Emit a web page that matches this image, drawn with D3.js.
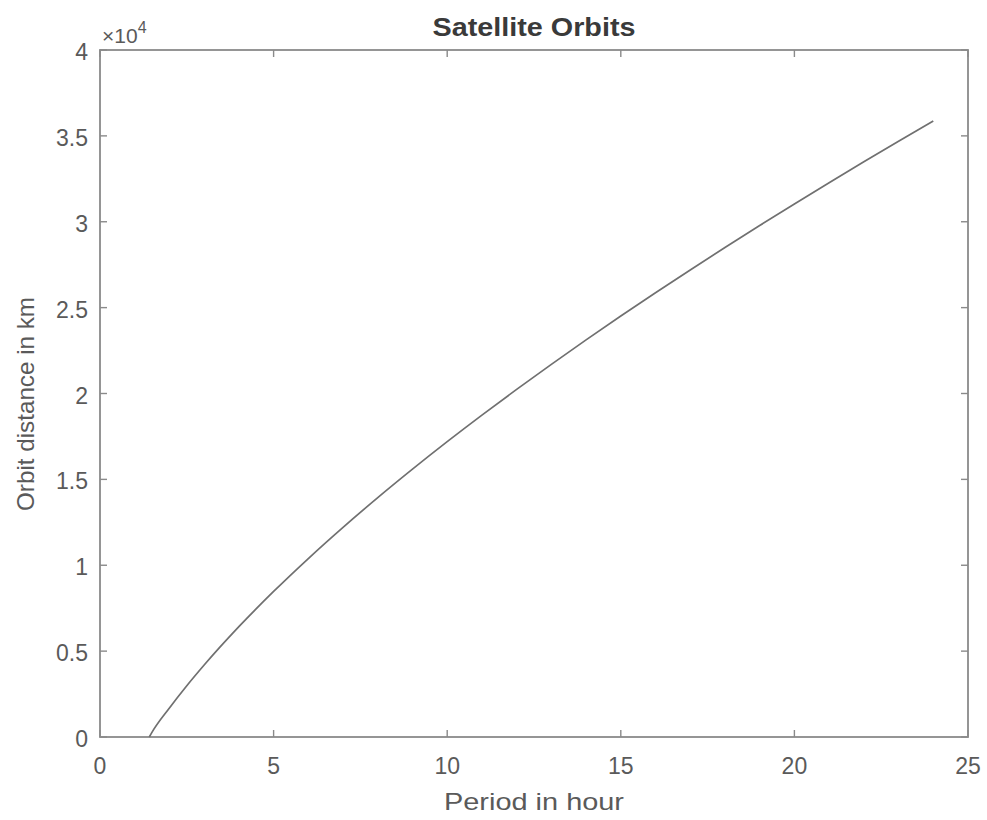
<!DOCTYPE html>
<html>
<head>
<meta charset="utf-8">
<script src="https://cdn.jsdelivr.net/npm/d3@7"></script>
<style>
  body { margin: 0; background: #fff; }
  text { font-family: "Liberation Sans", Arial, sans-serif; }
</style>
</head>
<body>
<div id="chart"></div>
<script>
// period in hours, orbit altitude in km
const periodHours = [1.42, 1.5, 2, 2.5, 3, 4, 5, 6, 7, 8, 9, 10, 11, 12, 13, 14, 15, 16, 17, 18, 19, 20, 21, 22, 23, 24];
const orbitKm = [0, 282, 1688, 2981, 4189, 6422, 8474, 10392, 12207, 13937, 15595, 17194, 18740, 20239, 21698, 23120, 24508, 25865, 27195, 28499, 29778, 31036, 32273, 33490, 34689, 35871];
const xTicks = [0, 5, 10, 15, 20, 25];
const yTicks = [0, 0.5, 1, 1.5, 2, 2.5, 3, 3.5, 4];

const width = 987, height = 820;
const margin = {top: 50, right: 19, bottom: 83, left: 100};

const svg = d3.select("#chart").append("svg")
    .attr("width", width)
    .attr("height", height);

const x = d3.scaleLinear().domain([0, 25]).range([margin.left, width - margin.right]);
const y = d3.scaleLinear().domain([0, 40000]).range([height - margin.bottom, margin.top]);

const axisColor = "#8a8a8a";
const textColor = "#5a5a5a";

// box
svg.append("rect")
    .attr("x", x(0)).attr("y", y(40000))
    .attr("width", x(25) - x(0)).attr("height", y(0) - y(40000))
    .attr("fill", "none")
    .attr("stroke", axisColor)
    .attr("stroke-width", 1.8);

// inner ticks on all sides
const tickLen = 7;
const g = svg.append("g").attr("stroke", axisColor).attr("stroke-width", 1.4);
xTicks.forEach(t => {
    g.append("line").attr("x1", x(t)).attr("x2", x(t)).attr("y1", y(0)).attr("y2", y(0) - tickLen);
    g.append("line").attr("x1", x(t)).attr("x2", x(t)).attr("y1", y(40000)).attr("y2", y(40000) + tickLen);
});
yTicks.forEach(t => {
    g.append("line").attr("x1", x(0)).attr("x2", x(0) + tickLen).attr("y1", y(t * 1e4)).attr("y2", y(t * 1e4));
    g.append("line").attr("x1", x(25)).attr("x2", x(25) - tickLen).attr("y1", y(t * 1e4)).attr("y2", y(t * 1e4));
});

// tick labels
svg.append("g")
    .selectAll("text")
    .data(xTicks)
    .join("text")
    .attr("x", d => x(d))
    .attr("y", y(0) + 37)
    .attr("text-anchor", "middle")
    .attr("fill", textColor)
    .style("font-size", "23px")
    .text(d => d);

svg.append("g")
    .selectAll("text")
    .data(yTicks)
    .join("text")
    .attr("x", x(0) - 12)
    .attr("y", d => y(d * 1e4) + 2)
    .attr("dy", "0.35em")
    .attr("text-anchor", "end")
    .attr("fill", textColor)
    .style("font-size", "23px")
    .text(d => d);

// exponent label
const ex = svg.append("text")
    .attr("x", x(0) + 2)
    .attr("y", y(40000) - 7)
    .attr("fill", textColor)
    .style("font-size", "21px");
ex.append("tspan").text("\u00d7");
ex.append("tspan").text("10");
ex.append("tspan").attr("dy", -10).style("font-size", "16px").text("4");

// curve
const line = d3.line()
    .x((d, i) => x(periodHours[i]))
    .y(d => y(d))
    .curve(d3.curveMonotoneX);

svg.append("path")
    .datum(orbitKm)
    .attr("d", line)
    .attr("fill", "none")
    .attr("stroke", "#707070")
    .attr("stroke-width", 1.7);

// title and labels
svg.append("text")
    .attr("x", (x(0) + x(25)) / 2)
    .attr("y", 36)
    .attr("text-anchor", "middle")
    .attr("fill", "#3a3a3a")
    .attr("textLength", 203)
    .attr("lengthAdjust", "spacingAndGlyphs")
    .style("font-size", "26px")
    .style("font-weight", "bold")
    .text("Satellite Orbits");

svg.append("text")
    .attr("x", (x(0) + x(25)) / 2)
    .attr("y", 810)
    .attr("text-anchor", "middle")
    .attr("fill", textColor)
    .attr("textLength", 180)
    .attr("lengthAdjust", "spacingAndGlyphs")
    .style("font-size", "24px")
    .text("Period in hour");

svg.append("text")
    .attr("transform", `translate(34, 404) rotate(-90)`)
    .attr("text-anchor", "middle")
    .attr("fill", textColor)
    .attr("textLength", 214)
    .attr("lengthAdjust", "spacingAndGlyphs")
    .style("font-size", "24px")
    .text("Orbit distance in km");
</script>
</body>
</html>
